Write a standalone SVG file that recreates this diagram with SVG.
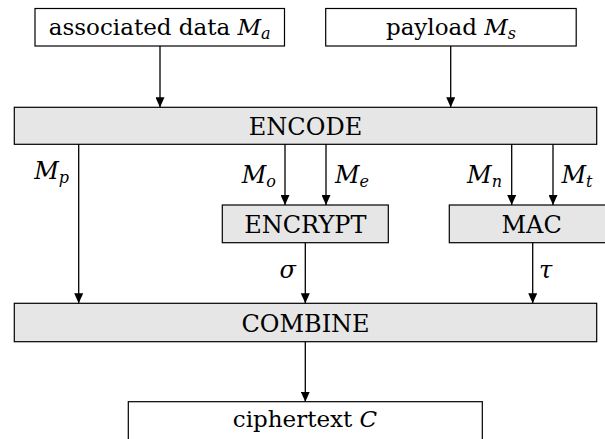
<svg xmlns="http://www.w3.org/2000/svg" width="605" height="439" viewBox="0 0 605 439">
<style>
.box{fill:#ffffff;stroke:#000;stroke-width:1.2}
.proc{fill:#e6e6e6;stroke:#000;stroke-width:1.2}
text{font-family:'DejaVu Serif',serif;font-size:24px;fill:#000}
.lc{font-size:23px}
.c{text-anchor:middle}
.r{text-anchor:end}
.i{font-style:italic}
.s{font-size:16px;font-style:italic}
.edge{stroke:#000;stroke-width:1.3;fill:none;marker-end:url(#ah)}
</style>
<defs>
<marker id="ah" markerUnits="userSpaceOnUse" markerWidth="10" markerHeight="9" refX="10" refY="4.5" orient="auto">
<path d="M0,0 L10,4.5 L0,9 z" fill="#000"/>
</marker>
</defs>
<rect width="605" height="439" fill="#fff"/>
<g id="assoc">
<rect class="box" x="35" y="8.5" width="249.5" height="37.5"/>
<text class="c lc" x="159.7" y="35">associated data <tspan class="i">M</tspan><tspan class="s" dy="4">a</tspan></text>
</g>
<g id="payload">
<rect class="box" x="325.7" y="8.5" width="250.5" height="37.5"/>
<text class="c lc" x="451" y="35">payload <tspan class="i">M</tspan><tspan class="s" dy="4">s</tspan></text>
</g>
<g id="encode">
<rect class="proc" x="14.3" y="107.3" width="582.4" height="37"/>
<text class="c" x="305.5" y="134.5">ENCODE</text>
</g>
<g id="encrypt">
<rect class="proc" x="222.3" y="205" width="166" height="37.7"/>
<text class="c" x="305.3" y="232.5">ENCRYPT</text>
</g>
<g id="mac">
<rect class="proc" x="449.3" y="205" width="170" height="37.7"/>
<text class="c" x="531.7" y="232.5">MAC</text>
</g>
<g id="combine">
<rect class="proc" x="14.3" y="303.3" width="582.4" height="38.4"/>
<text class="c" x="305.5" y="331.5">COMBINE</text>
</g>
<g id="ciphertext">
<rect class="box" x="128.3" y="401.7" width="354" height="50"/>
<text class="c lc" x="305" y="427.3">ciphertext <tspan class="i">C</tspan></text>
</g>
<g id="connectors">
<line class="edge" x1="160" y1="46" x2="160" y2="107.3"/>
<line class="edge" x1="450.7" y1="46" x2="450.7" y2="107.3"/>
<line class="edge" x1="78.7" y1="144.3" x2="78.7" y2="303.3"/>
<line class="edge" x1="285" y1="144.3" x2="285" y2="205"/>
<line class="edge" x1="326" y1="144.3" x2="326" y2="205"/>
<line class="edge" x1="511.7" y1="144.3" x2="511.7" y2="205"/>
<line class="edge" x1="553" y1="144.3" x2="553" y2="205"/>
<line class="edge" x1="305.3" y1="242.7" x2="305.3" y2="303.3"/>
<line class="edge" x1="532.7" y1="242.7" x2="532.7" y2="303.3"/>
<line class="edge" x1="305.3" y1="341.7" x2="305.3" y2="401.7"/>
<text class="r" x="69" y="179"><tspan class="i">M</tspan><tspan class="s" dy="4">p</tspan></text>
<text class="r" x="276" y="183"><tspan class="i">M</tspan><tspan class="s" dy="4">o</tspan></text>
<text x="335" y="183"><tspan class="i">M</tspan><tspan class="s" dy="4">e</tspan></text>
<text class="r" x="502" y="183"><tspan class="i">M</tspan><tspan class="s" dy="4">n</tspan></text>
<text x="561.5" y="183"><tspan class="i">M</tspan><tspan class="s" dy="4">t</tspan></text>
<text class="r i" x="296" y="278">σ</text>
<text class="i" x="539" y="278">τ</text>
</g>
</svg>
